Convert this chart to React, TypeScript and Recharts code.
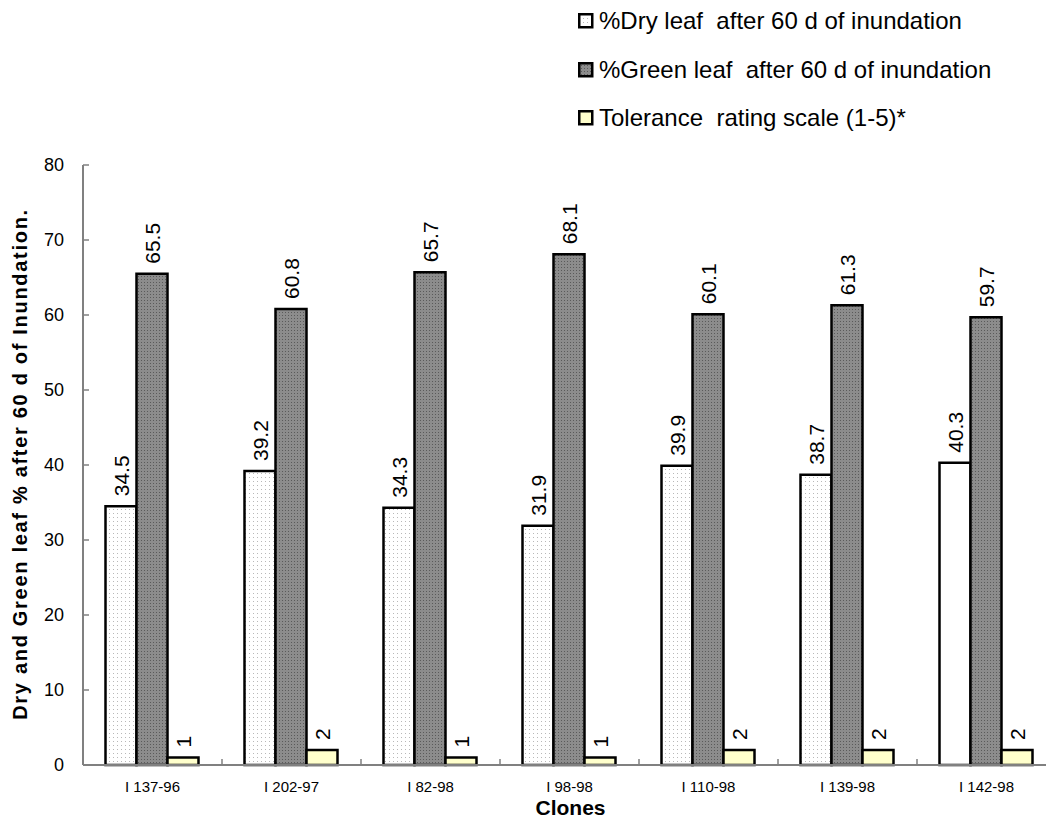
import React from 'react';
import { BarChart, Bar, XAxis, YAxis, Cell, LabelList, Legend } from 'recharts';

const clones = ['I 137-96', 'I 202-97', 'I 82-98', 'I 98-98', 'I 110-98', 'I 139-98', 'I 142-98'];
const dryLeaf = [34.5, 39.2, 34.3, 31.9, 39.9, 38.7, 40.3];
const greenLeaf = [65.5, 60.8, 65.7, 68.1, 60.1, 61.3, 59.7];
const tolerance = [1, 2, 1, 1, 2, 2, 2];
const yTicks = [0, 10, 20, 30, 40, 50, 60, 70, 80];
const seriesNames = [
  '%Dry leaf  after 60 d of inundation',
  '%Green leaf  after 60 d of inundation',
  'Tolerance  rating scale (1-5)*',
];

const data = clones.map((c, i) => ({
  clone: c,
  dry: dryLeaf[i],
  green: greenLeaf[i],
  tol: tolerance[i],
}));

const FONT = '"Liberation Sans", Arial, sans-serif';
const CHART_W = 1070;
const CHART_H = 823;
const PLOT_LEFT = 83;
const PLOT_RIGHT_MARGIN = 14;
const BAND = (CHART_W - PLOT_LEFT - PLOT_RIGHT_MARGIN) / clones.length;

const renderValueLabel = (props: any) => {
  const { x, y, width, value } = props;
  const cx = Number(x) + Number(width) / 2;
  const cy = Number(y) - 10;
  return (
    <text
      x={cx}
      y={cy}
      transform={`rotate(-90, ${cx}, ${cy})`}
      textAnchor="start"
      dominantBaseline="central"
      fontFamily={FONT}
      fontSize={21}
      fill="#000"
    >
      {String(value)}
    </text>
  );
};

const YTick = (props: any) => {
  const { x, y, payload } = props;
  return (
    <g>
      <line x1={x} x2={x + 6} y1={y} y2={y} stroke="#808080" strokeWidth={1.5} />
      <text
        x={x - 19}
        y={y}
        dy="0.36em"
        textAnchor="end"
        fontFamily={FONT}
        fontSize={18}
        fill="#000"
      >
        {payload.value}
      </text>
    </g>
  );
};

const XTick = (props: any) => {
  const { x, y, payload, index } = props;
  const left = x - BAND / 2;
  const right = x + BAND / 2;
  return (
    <g>
      <line x1={left} x2={left} y1={y - 6} y2={y} stroke="#808080" strokeWidth={1.5} />
      {index === clones.length - 1 && (
        <line x1={right} x2={right} y1={y - 6} y2={y} stroke="#808080" strokeWidth={1.5} />
      )}
      <text
        x={x}
        y={y + 27}
        textAnchor="middle"
        fontFamily={FONT}
        fontSize={15}
        fill="#000"
      >
        {payload.value}
      </text>
    </g>
  );
};

const XTitle = (props: any) => {
  const vb = props.viewBox || {};
  const cx = vb.x + vb.width / 2 + 1;
  return (
    <text
      x={cx}
      y={815}
      textAnchor="middle"
      fontFamily={FONT}
      fontSize={21}
      fontWeight="bold"
      fill="#000"
    >
      Clones
    </text>
  );
};

const YTitle = (props: any) => {
  const cx = 20;
  const cy = 464;
  return (
    <text
      x={cx}
      y={cy}
      transform={`rotate(-90, ${cx}, ${cy})`}
      textAnchor="middle"
      dominantBaseline="central"
      fontFamily={FONT}
      fontSize={20}
      fontWeight="bold"
      letterSpacing={1.7}
      fill="#000"
    >
      Dry and Green leaf % after 60 d of Inundation.
    </text>
  );
};

const swatchFills = ['url(#dryPat)', 'url(#greenPat)', '#ffffcc'];

const renderLegend = () => (
  <div style={{ fontFamily: FONT }}>
    {seriesNames.map((name, i) => (
      <div
        key={name}
        style={{ display: 'flex', alignItems: 'center', height: 48.5 }}
      >
        <svg width={16} height={16} style={{ display: 'block' }}>
          <rect x={1.25} y={1.25} width={13} height={13} fill={swatchFills[i]} stroke="#000" strokeWidth={2.5} />
        </svg>
        <span
          style={{
            marginLeft: 5,
            fontSize: 24,
            whiteSpace: 'pre',
            color: '#000',
            lineHeight: '28px',
          }}
        >
          {name}
        </span>
      </div>
    ))}
  </div>
);

export default function App() {
  return (
    <div
      style={{
        position: 'absolute',
        left: 0,
        top: 0,
        width: 1046,
        height: 823,
        overflow: 'hidden',
        background: '#fff',
      }}
    >
      <BarChart
        width={CHART_W}
        height={CHART_H}
        data={data}
        margin={{ top: 165, right: PLOT_RIGHT_MARGIN, left: 0, bottom: 28 }}
        barCategoryGap={22.5}
        barGap={0}
      >
        <defs>
          <pattern id="dryPat" width="4" height="4" patternUnits="userSpaceOnUse">
            <rect width="4" height="4" fill="#ffffff" />
            <rect x="1" y="1" width="1" height="1" fill="#b8b8b8" />
          </pattern>
          <pattern id="greenPat" width="3" height="3" patternUnits="userSpaceOnUse">
            <rect width="3" height="3" fill="#8c8c8c" />
            <rect x="0" y="0" width="1" height="1" fill="#5a5a5a" />
          </pattern>
        </defs>
        <XAxis
          dataKey="clone"
          height={30}
          interval={0}
          tickSize={0}
          tickMargin={0}
          tickLine={false}
          axisLine={{ stroke: '#808080', strokeWidth: 2 }}
          tick={<XTick />}
          label={XTitle}
        />
        <YAxis
          width={PLOT_LEFT}
          domain={[0, 80]}
          ticks={yTicks}
          interval={0}
          tickSize={0}
          tickMargin={0}
          tickLine={false}
          axisLine={{ stroke: '#808080', strokeWidth: 2 }}
          tick={<YTick />}
          label={YTitle}
        />
        <Legend
          layout="vertical"
          verticalAlign="middle"
          align="center"
          content={renderLegend}
          wrapperStyle={{ top: -3, left: 578, width: 468, height: 150 }}
        />
        <Bar dataKey="dry" name={seriesNames[0]} fill="url(#dryPat)" stroke="#000" strokeWidth={2.5} isAnimationActive={false}>
          {data.map((d, i) => (
            <Cell key={d.clone} fill={i === data.length - 1 ? '#ffffff' : 'url(#dryPat)'} />
          ))}
          <LabelList dataKey="dry" content={renderValueLabel} />
        </Bar>
        <Bar dataKey="green" name={seriesNames[1]} fill="url(#greenPat)" stroke="#000" strokeWidth={2.5} isAnimationActive={false}>
          <LabelList dataKey="green" content={renderValueLabel} />
        </Bar>
        <Bar dataKey="tol" name={seriesNames[2]} fill="#ffffcc" stroke="#000" strokeWidth={2.5} isAnimationActive={false}>
          <LabelList dataKey="tol" content={renderValueLabel} />
        </Bar>
      </BarChart>
    </div>
  );
}
